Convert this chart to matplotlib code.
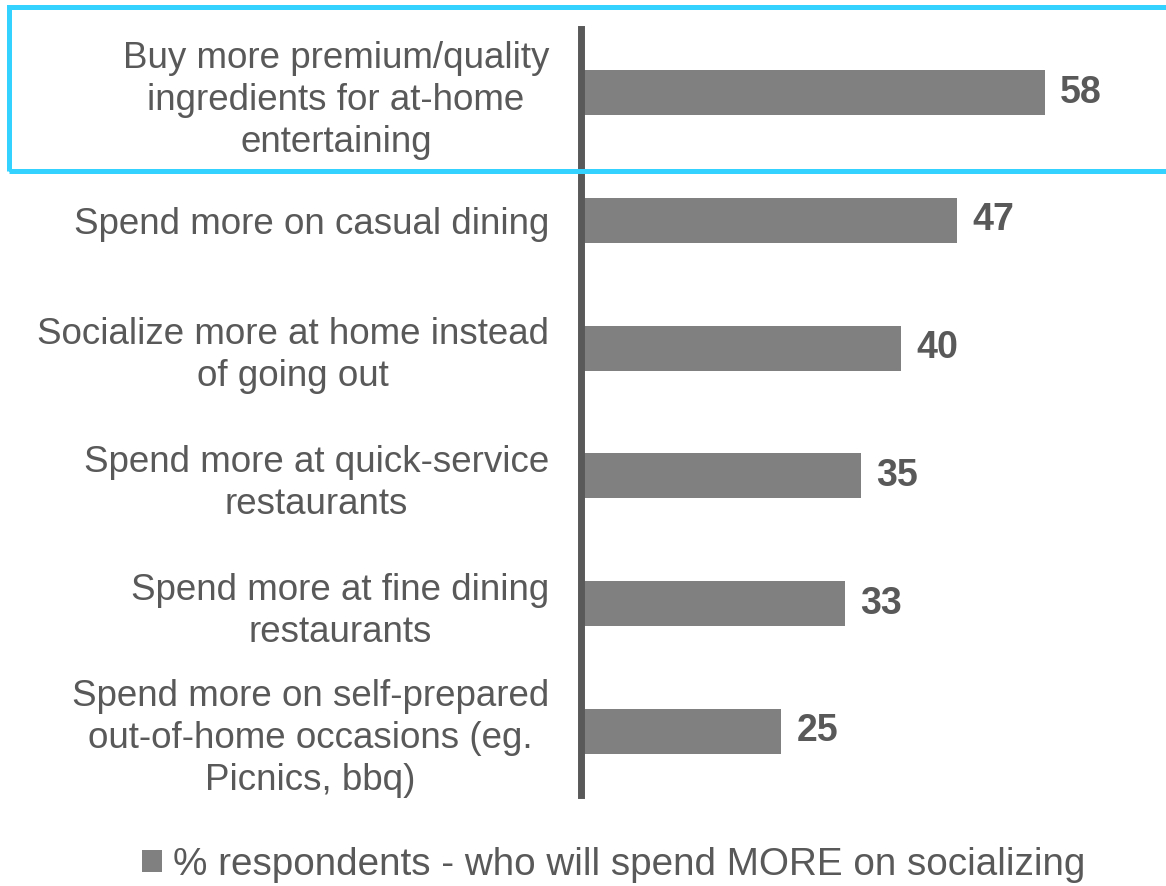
import matplotlib.pyplot as plt
from matplotlib.patches import Rectangle

plt.rcParams['font.family'] = ['Liberation Sans', 'DejaVu Sans']

categories = [
    'Buy more premium/quality\ningredients for at-home\nentertaining',
    'Spend more on casual dining',
    'Socialize more at home instead\nof going out',
    'Spend more at quick-service\nrestaurants',
    'Spend more at fine dining\nrestaurants',
    'Spend more on self-prepared\nout-of-home occasions (eg.\nPicnics, bbq)',
]
values = [58, 47, 40, 35, 33, 25]
series_name = '% respondents - who will spend MORE on socializing'

text_grey = '#595959'
bar_grey = '#808080'
highlight = '#33D2FF'

W, H = 1166, 886
fig = plt.figure(figsize=(W / 100, H / 100), dpi=100)
# axes placed in pixel terms: zero line at x=581, plot from y=29 to y=795
ax = fig.add_axes([581 / W, 1 - 795 / H, 560 / W, (795 - 29) / H])

pos = list(range(len(values)))
bars = ax.barh(pos, values, height=0.35, color=bar_grey, label=series_name)
ax.set_ylim(len(values) - 0.5, -0.5)
ax.set_xlim(0, 70)

ax.bar_label(bars, labels=[str(v) for v in values], padding=11,
             fontsize=27, fontweight='bold', color=text_grey)

ax.set_yticks(pos)
ax.set_yticklabels(categories, fontsize=26.5, color=text_grey,
                   multialignment='center', linespacing=1.26)
ax.tick_params(axis='y', length=0, pad=23)
ax.set_xticks([])

for side in ['top', 'right', 'bottom']:
    ax.spines[side].set_visible(False)
ax.spines['left'].set_color(text_grey)
ax.spines['left'].set_linewidth(5.0)

# highlight box around the top item
box = Rectangle((8.5 / W, 1 - 170.5 / H), 1.0, (170.5 - 7.5) / H,
                transform=fig.transFigure, fill=False, edgecolor=highlight,
                linewidth=3.6, clip_on=False, zorder=10)
fig.patches.append(box)

leg = fig.legend(loc='center', bbox_to_anchor=(614 / W, 1 - 865 / H),
                 frameon=False, fontsize=27.8, handlelength=0.5,
                 handleheight=0.5, handletextpad=0.3, borderpad=0)
for t in leg.get_texts():
    t.set_color(text_grey)

fig.savefig('out.png', dpi=100)
